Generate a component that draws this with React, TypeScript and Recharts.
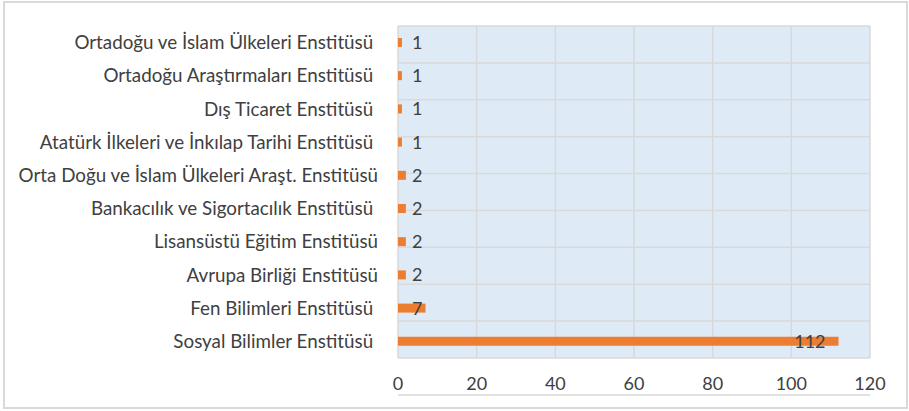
import { Bar, BarChart, CartesianGrid, LabelList, XAxis, YAxis } from 'recharts';

// top to bottom, as in the picture (some names carry a trailing space)
const categories = [
  'Ortadoğu ve İslam Ülkeleri Enstitüsü ',
  'Ortadoğu Araştırmaları Enstitüsü ',
  'Dış Ticaret Enstitüsü ',
  'Atatürk İlkeleri ve İnkılap Tarihi Enstitüsü ',
  'Orta Doğu ve İslam Ülkeleri Araşt. Enstitüsü',
  'Bankacılık ve Sigortacılık Enstitüsü ',
  'Lisansüstü Eğitim Enstitüsü',
  'Avrupa Birliği Enstitüsü',
  'Fen Bilimleri Enstitüsü ',
  'Sosyal Bilimler Enstitüsü ',
];
const counts = [1, 1, 1, 1, 2, 2, 2, 2, 7, 112];
const xTicks = [0, 20, 40, 60, 80, 100, 120];
// boundaries between category rows, used for grid lines and tick marks
const rowEdges = categories.map((_, i) => i).concat(categories.length);

const data = categories.map((name, i) => ({ name, value: counts[i] }));

const FONT = 'Lato, "Open Sans", sans-serif';
const TEXT = '#404040';
const GRID = '#D9D9D9';

const CategoryTick = (props: any) => {
  const { x, y, payload } = props;
  return (
    <text
      x={x}
      y={y}
      dy={6.5}
      textAnchor="end"
      fill={TEXT}
      fontSize={18.8}
      style={{ whiteSpace: 'pre' }}
    >
      {payload.value}
    </text>
  );
};

const ValueLabel = (props: any) => {
  const x = Number(props.x);
  const y = Number(props.y);
  const width = Number(props.width);
  const height = Number(props.height);
  const small = Number(props.value) < 10;
  return (
    <text
      x={small ? x + 14 : x + width - 13}
      y={y + height / 2}
      dy={6.5}
      textAnchor={small ? 'start' : 'end'}
      fill={TEXT}
      fontSize={18}
    >
      {props.value}
    </text>
  );
};

export default function App() {
  return (
    <div style={{ position: 'absolute', left: 0, top: 0, width: 909, height: 411 }}>
      <div
        style={{
          position: 'absolute',
          left: 3,
          top: 1,
          width: 901,
          height: 404,
          border: `2px solid ${GRID}`,
        }}
      />
      <BarChart
        width={909}
        height={411}
        data={data}
        layout="vertical"
        margin={{ top: 26, right: 39, bottom: 0, left: 0 }}
        style={{ fontFamily: FONT, position: 'absolute', left: 0, top: 0 }}
      >
        <CartesianGrid
          yAxisId="grid"
          fill="#DEEBF7"
          fillOpacity={1}
          stroke={GRID}
          strokeWidth={1.5}
        />
        <YAxis
          yAxisId="grid"
          type="number"
          domain={[0, categories.length]}
          ticks={rowEdges}
          width={0}
          tickSize={6}
          tick={() => <g />}
          tickLine={{ stroke: GRID, strokeWidth: 1.5 }}
          axisLine={{ stroke: GRID, strokeWidth: 1.5 }}
        />
        <YAxis
          yAxisId="cat"
          type="category"
          dataKey="name"
          width={398}
          tickSize={0}
          tickMargin={20}
          axisLine={false}
          tickLine={false}
          tick={<CategoryTick />}
          interval={0}
        />
        <XAxis
          type="number"
          domain={[0, 120]}
          ticks={xTicks}
          height={53}
          tickSize={0}
          tickMargin={19}
          axisLine={false}
          tickLine={false}
          tick={{ fill: TEXT, fontSize: 18 }}
        />
        <Bar
          yAxisId="cat"
          dataKey="value"
          fill="#ED7D31"
          barSize={9}
          isAnimationActive={false}
        >
          <LabelList dataKey="value" content={<ValueLabel />} />
        </Bar>
      </BarChart>
    </div>
  );
}
